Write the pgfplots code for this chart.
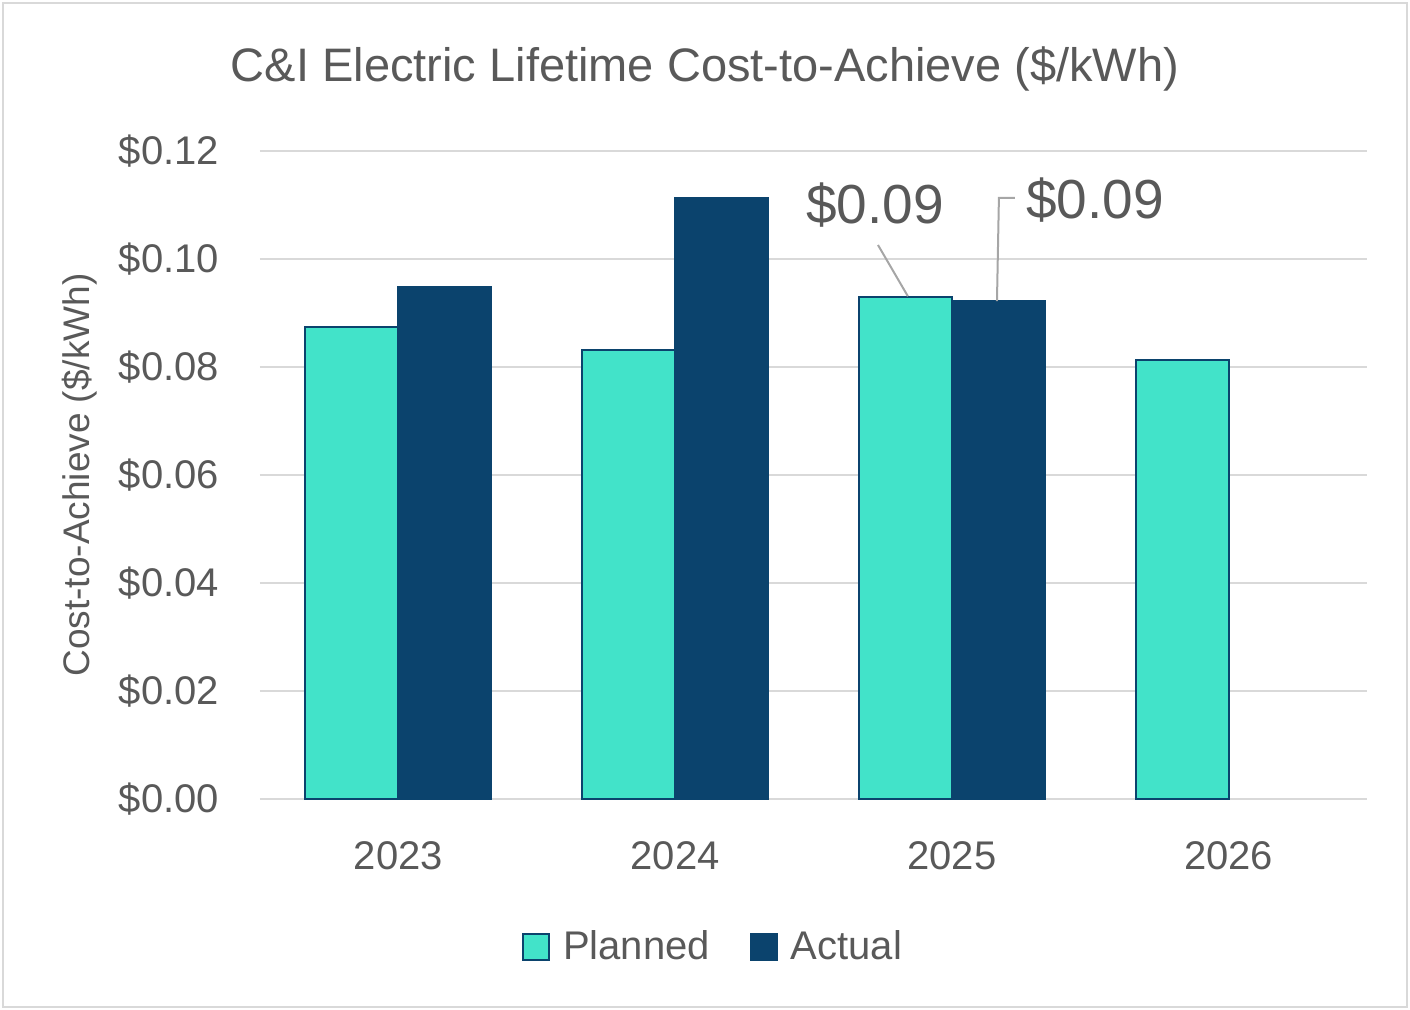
\documentclass[border=0pt]{standalone}
\usepackage{pgfplots}
\pgfplotsset{compat=1.18}
\usepackage{fontspec}
\setmainfont{Liberation Sans}
\definecolor{planned}{HTML}{42E3C9}
\definecolor{actual}{HTML}{0B436D}
\definecolor{txt}{HTML}{595959}
\definecolor{gridc}{HTML}{D9D9D9}
\begin{document}
\begin{tikzpicture}
\path (-130pt,-105.5pt) rectangle (575pt,399.5pt);
\draw[gridc, line width=1pt] (-128.5pt,-104pt) rectangle (573.5pt,398pt);
\begin{axis}[
  scale only axis,
  width=553.5pt, height=324pt,
  ybar=0pt, bar width=0.336,
  xmin=-0.5, xmax=3.5, ymin=0, ymax=0.12,
  xtick={0,1,2,3}, xticklabels={2023,2024,2025,2026},
  ytick={0,0.02,0.04,0.06,0.08,0.1,0.12},
  yticklabels={\$0.00,\$0.02,\$0.04,\$0.06,\$0.08,\$0.10,\$0.12},
  ymajorgrids, grid style={gridc, line width=1pt},
  axis x line*=bottom, axis y line*=left,
  x axis line style={gridc, line width=1pt, -},
  y axis line style={draw=none},
  major tick length=0pt,
  tick label style={font=\fontsize{20}{22}\selectfont, text=txt},
  yticklabel style={xshift=-17pt},
  xticklabel style={yshift=-18pt},
  ylabel={Cost-to-Achieve (\$/kWh)},
  ylabel style={font=\fontsize{18.5}{20}\selectfont, text=txt, at={(-90pt,162pt)}, anchor=center},
  title={C\&I Electric Lifetime Cost-to-Achieve (\$/kWh)},
  title style={font=\fontsize{23.5}{26}\selectfont, text=txt, at={(222.5pt,366pt)}, anchor=center, yshift=-7pt},
  legend columns=2,
  legend style={draw=none, fill=none, at={(227pt,-74pt)}, anchor=center,
    font=\fontsize{20}{22}\selectfont, text=txt,
    /tikz/every even column/.append style={column sep=18pt}},
  legend image code/.code={\path[draw=none, fill=none] (0pt,0pt) -- (18pt,0pt);\draw[#1, draw=actual, line width=1pt] (0pt,-6.5pt) rectangle (13pt,6.5pt);},
  clip=false,
]
\addplot[fill=planned, draw=actual, line width=1pt] coordinates {(0,0.0874) (1,0.0831) (2,0.0930) (3,0.0813)};
\addplot[fill=actual, draw=actual, line width=1pt] coordinates {(0,0.0948) (1,0.1113) (2,0.0922)};
\legend{Planned, Actual}
\draw[gray!70, line width=1pt] (axis cs:1.733,0.1026) -- (axis cs:1.841,0.0931);
\draw[gray!70, line width=1pt] (axis cs:2.228,0.1113) -- (axis cs:2.170,0.1113) -- (axis cs:2.163,0.0922);
\node[text=txt, font=\fontsize{27.5}{30}\selectfont] at (axis cs:1.722,0.110) {\$0.09};
\node[text=txt, font=\fontsize{27.5}{30}\selectfont] at (axis cs:2.517,0.1109) {\$0.09};
\end{axis}
\end{tikzpicture}
\end{document}
